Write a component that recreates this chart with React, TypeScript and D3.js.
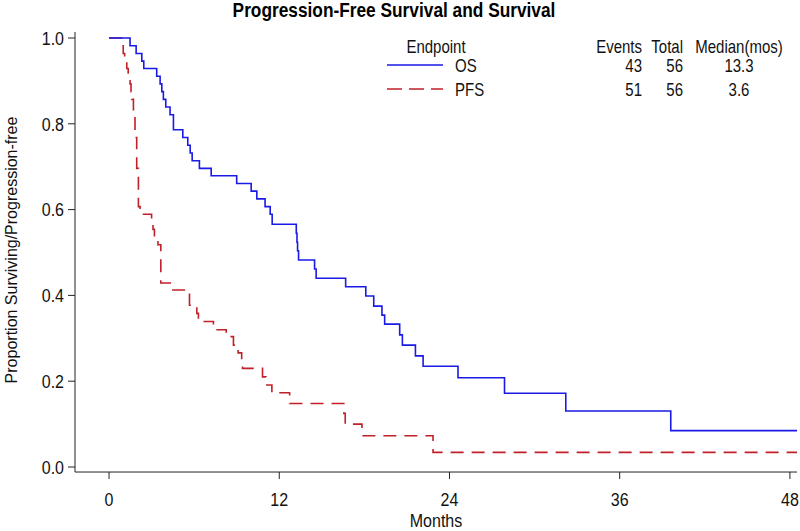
import React from "react";
import * as d3 from "d3";

const title = "Progression-Free Survival and Survival";
const xLabel = "Months";
const yLabel = "Proportion Surviving/Progression-free";
const xTicks = [0, 12, 24, 36, 48];
const yTicks = [0, 0.2, 0.4, 0.6, 0.8, 1.0];

// Kaplan-Meier step values (month, proportion)
const osMonths = [0, 1.48, 1.91, 2.31, 2.45, 3.36, 3.6, 3.72, 3.83, 4.0, 4.3, 4.54, 5.2, 5.55, 5.72, 5.86, 6.37, 7.2, 9.0, 10.02, 10.42, 11.0, 11.36, 11.5, 13.2, 13.25, 13.29, 13.36, 14.49, 14.6, 16.68, 18.1, 18.66, 19.24, 19.43, 20.49, 20.68, 21.6, 22.14, 24.6, 27.88, 32.2, 39.6, 48.5];
const osSurvival = [1.0, 0.982, 0.964, 0.946, 0.929, 0.911, 0.893, 0.875, 0.857, 0.839, 0.821, 0.786, 0.768, 0.75, 0.732, 0.714, 0.696, 0.679, 0.661, 0.643, 0.625, 0.607, 0.589, 0.566, 0.545, 0.524, 0.504, 0.4825, 0.4615, 0.44, 0.42, 0.3986, 0.375, 0.354, 0.333, 0.308, 0.284, 0.259, 0.235, 0.208, 0.172, 0.1305, 0.0847, 0.0847];

const pfsMonths = [0, 0.89, 1.0, 1.1, 1.25, 1.35, 1.48, 1.55, 1.6, 1.72, 1.83, 1.95, 2.07, 2.19, 3.0, 3.1, 3.2, 3.45, 3.65, 4.38, 5.67, 6.19, 6.3, 7.36, 8.26, 8.77, 9.1, 9.35, 9.41, 10.82, 11.06, 11.48, 12.73, 16.55, 16.65, 17.83, 22.84, 48.5];
const pfsSurvival = [1.0, 0.982, 0.964, 0.946, 0.929, 0.911, 0.893, 0.875, 0.857, 0.821, 0.768, 0.696, 0.607, 0.589, 0.571, 0.554, 0.536, 0.518, 0.429, 0.4126, 0.377, 0.358, 0.339, 0.32, 0.304, 0.284, 0.266, 0.249, 0.23, 0.21, 0.191, 0.173, 0.148, 0.125, 0.1, 0.073, 0.034, 0.034];

const endpoints = ["OS", "PFS"];
const eventCounts = [43, 51];
const totalCounts = [56, 56];
const medianMonths = ["13.3", "3.6"];

const OS_COLOR = "#1a1ae6";
const PFS_COLOR = "#c0202a";
const FONT = "'Liberation Sans', Arial, Helvetica, sans-serif";
const STRETCH = 1.17;

type TProps = {
  x: number;
  y: number;
  size: number;
  anchor?: "start" | "middle" | "end";
  dy?: string;
  bold?: boolean;
  children: React.ReactNode;
};

function T({ x, y, size, anchor = "start", dy, bold, children }: TProps) {
  return (
    <text
      transform={`translate(${x},${y}) scale(1,${STRETCH})`}
      textAnchor={anchor}
      dy={dy}
      fontSize={size}
      fontWeight={bold ? "bold" : "normal"}
      fill={bold ? "#000" : "#111"}
    >
      {children}
    </text>
  );
}

export default function App() {
  const W = 800;
  const H = 531;
  const x = d3.scaleLinear().domain([-2.4, 48.5]).range([75, 797]);
  const y = d3.scaleLinear().domain([0, 1]).range([467, 38]);
  const axisY = y(-0.0117);
  const axisTop = y(1.014);

  const line = d3
    .line<[number, number]>()
    .x((d) => x(d[0]))
    .y((d) => y(d[1]))
    .curve(d3.curveStepAfter);

  const osData = osMonths.map((m, i) => [m, osSurvival[i]] as [number, number]);
  const pfsData = pfsMonths.map((m, i) => [m, pfsSurvival[i]] as [number, number]);

  const legendColors = [OS_COLOR, PFS_COLOR];
  const legendDash = [undefined, "15 7"];
  const rowY = [66, 90];

  return (
    <div style={{ position: "fixed", left: 0, top: 0, width: W, height: H, background: "#fff" }}>
      <svg width={W} height={H} style={{ display: "block" }} fontFamily={FONT}>
        <rect x={0} y={0} width={W} height={H} fill="#fff" />
        <T x={394} y={17} size={17.3} anchor="middle" bold>
          {title}
        </T>

        {/* axes */}
        <line x1={75} x2={75} y1={axisTop} y2={axisY} stroke="#222" strokeWidth={1} />
        <line x1={75} x2={797} y1={axisY} y2={axisY} stroke="#222" strokeWidth={1} />
        {yTicks.map((t) => (
          <g key={"y" + t}>
            <line x1={68} x2={75} y1={y(t)} y2={y(t)} stroke="#222" />
            <T x={64} y={y(t)} size={16} anchor="end" dy="0.36em">
              {t.toFixed(1)}
            </T>
          </g>
        ))}
        {xTicks.map((t) => (
          <g key={"x" + t}>
            <line x1={x(t)} x2={x(t)} y1={axisY} y2={axisY + 7} stroke="#222" />
            <T x={x(t)} y={506} size={16} anchor="middle">
              {t}
            </T>
          </g>
        ))}
        <T x={436} y={527} size={16} anchor="middle">
          {xLabel}
        </T>
        <text
          transform={`translate(17,250) rotate(-90)`}
          textAnchor="middle"
          fontSize={16}
          fill="#111"
        >
          {yLabel}
        </text>

        {/* curves */}
        <path d={line(pfsData) || ""} fill="none" stroke={PFS_COLOR} strokeWidth={1.6} strokeDasharray="13 8" />
        <path d={line(osData) || ""} fill="none" stroke={OS_COLOR} strokeWidth={1.6} />

        {/* legend */}
        <T x={436} y={53} size={15} anchor="middle">Endpoint</T>
        <T x={642} y={53} size={15} anchor="end">Events</T>
        <T x={683} y={53} size={15} anchor="end">Total</T>
        <T x={739} y={53} size={15} anchor="middle">Median(mos)</T>
        {endpoints.map((e, i) => (
          <g key={e}>
            <line
              x1={387}
              x2={443}
              y1={rowY[i] - 1}
              y2={rowY[i] - 1}
              stroke={legendColors[i]}
              strokeWidth={1.6}
              strokeDasharray={legendDash[i]}
            />
            <T x={455} y={rowY[i]} size={15} dy="0.36em">{e}</T>
            <T x={642} y={rowY[i]} size={15} anchor="end" dy="0.36em">{eventCounts[i]}</T>
            <T x={683} y={rowY[i]} size={15} anchor="end" dy="0.36em">{totalCounts[i]}</T>
            <T x={739} y={rowY[i]} size={15} anchor="middle" dy="0.36em">{medianMonths[i]}</T>
          </g>
        ))}
      </svg>
    </div>
  );
}
